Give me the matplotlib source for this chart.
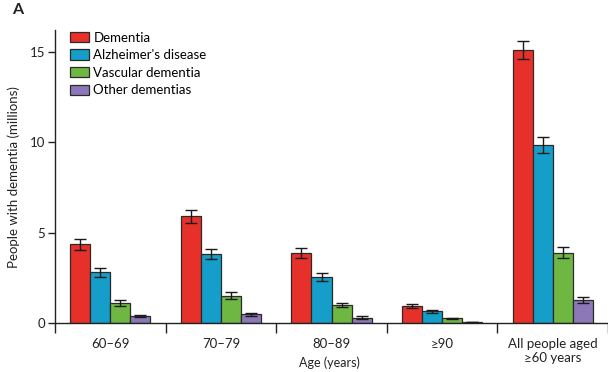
import matplotlib.pyplot as plt
import numpy as np

plt.rcParams['font.family'] = ['Lato', 'DejaVu Sans']

groups = ["60–69", "70–79", "80–89", "≥90", "All people aged\n≥60 years"]
series = ["Dementia", "Alzheimer's disease", "Vascular dementia", "Other dementias"]
dementia = [4.35, 5.92, 3.86, 0.95, 15.13]
alzheimers = [2.80, 3.82, 2.55, 0.65, 9.86]
vascular = [1.10, 1.51, 1.00, 0.25, 3.90]
other = [0.38, 0.48, 0.30, 0.05, 1.27]
err_dementia = [0.30, 0.36, 0.27, 0.10, 0.50]
err_alzheimers = [0.25, 0.28, 0.22, 0.08, 0.45]
err_vascular = [0.15, 0.20, 0.12, 0.05, 0.30]
err_other = [0.07, 0.10, 0.07, 0.02, 0.18]

colors = ["#e8302a", "#149ec9", "#6fb743", "#8d78b7"]
values = [dementia, alzheimers, vascular, other]
errors = [err_dementia, err_alzheimers, err_vascular, err_other]

fig = plt.figure(figsize=(6.08, 3.72), dpi=100)
ax = fig.add_axes([0.0905, 0.1317, 0.9095, 0.787])

x = np.arange(len(groups))
w = 0.181
for i, (vals, errs, c, name) in enumerate(zip(values, errors, colors, series)):
    off = (i - 1.5) * w
    ax.bar(x + off, vals, width=w, color=c, edgecolor="#2a2a2a", linewidth=0.9,
           label=name, zorder=2)
    ax.errorbar(x + off, vals, yerr=errs, fmt="none", ecolor="#1a1a1a",
                elinewidth=1.0, capsize=4, capthick=1.0, zorder=3)

ax.set_xlim(-0.5, len(groups) - 0.5)
ax.set_ylim(0, 16.2)
ax.set_yticks([0, 5, 10, 15])
ax.set_xticks(x)
ax.set_xticklabels(groups, fontsize=9.5, color="#222222", linespacing=1.15)
ax.set_xticks(np.arange(len(groups) + 1) - 0.5, minor=True)
ax.tick_params(axis="x", which="major", length=0, pad=11)
ax.tick_params(axis="x", which="minor", length=7, width=1.0, direction="out", color="#222222")
ax.tick_params(axis="y", length=5, width=1.0, pad=2, labelsize=9.5, colors="#222222")
for s in ["top", "right"]:
    ax.spines[s].set_visible(False)
for s in ["left", "bottom"]:
    ax.spines[s].set_linewidth(1.0)
    ax.spines[s].set_color("#222222")

ax.set_ylabel("People with dementia (millions)", fontsize=9.5, color="#222222", labelpad=7)
ax.set_xlabel("Age (years)", fontsize=9, color="#222222")
ax.xaxis.set_label_coords(0.497, -0.137)
ax.xaxis.label.set_va("center")

leg = ax.legend(loc="upper left", bbox_to_anchor=(0.012, 1.022), frameon=False, fontsize=9.5,
                handlelength=1.45, handleheight=0.85, handletextpad=0.35, labelspacing=0.42,
                borderaxespad=0.2)

fig.text(0.02, 0.972, "A", fontsize=11.5, fontweight="bold", color="#222222", va="center")

fig.savefig("out.png", dpi=100)
